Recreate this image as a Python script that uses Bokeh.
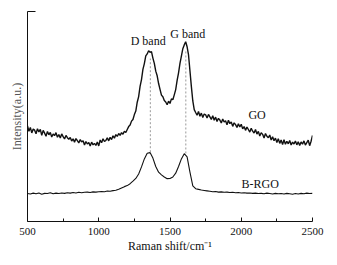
from bokeh.plotting import figure
from bokeh.models import Range1d, FixedTicker, ColumnDataSource
from bokeh.core.properties import value
from bokeh.embed import file_html
from bokeh.resources import INLINE

# Raman shift grid (cm^-1)
go_x = list(range(500, 2501, 10))
go_y = [
    45.5, 43.0, 44.8, 42.2, 44.0, 43.5, 41.8, 44.2, 42.6, 43.9,
    41.0, 43.4, 42.1, 40.6, 42.9, 41.3, 42.4, 40.2, 41.7, 40.9,
    42.3, 40.1, 41.4, 39.8, 41.7, 40.4, 39.3, 41.0, 39.9, 39.2,
    40.0, 38.3, 39.4, 37.8, 39.5, 38.5, 37.4, 39.0, 37.9, 38.5,
    36.4, 38.1, 36.9, 37.6, 35.9, 37.8, 36.5, 37.2, 36.2, 37.9,
    36.0, 38.8, 37.5, 39.4, 38.1, 38.6, 39.9, 38.4, 40.1, 39.0,
    40.8, 39.7, 41.4, 40.5, 41.9, 41.0, 42.3, 41.6, 43.0, 42.4,
    43.8, 45.2, 45.9, 47.8, 48.6, 50.9, 52.6, 56.8, 59.5, 64.3,
    67.6, 72.4, 75.2, 78.9, 79.8, 81.3, 80.6, 80.9, 77.8, 75.3,
    71.6, 69.4, 65.7, 62.9, 60.2, 59.4, 57.6, 56.9, 55.6, 57.3,
    56.2, 58.4, 58.0, 60.3, 62.8, 67.2, 70.8, 75.3, 78.7, 82.3,
    84.1, 85.6, 83.2, 79.3, 71.8, 64.2, 57.4, 53.3, 51.9, 50.6,
    52.4, 50.1, 51.6, 49.5, 51.2, 50.8, 49.3, 51.0, 49.8, 48.6,
    50.4, 48.2, 49.7, 47.6, 49.1, 48.3, 46.9, 48.8, 47.4, 48.0,
    46.0, 48.2, 46.6, 47.4, 45.3, 47.0, 46.1, 44.8, 46.5, 45.0,
    46.3, 44.1, 45.2, 43.4, 45.0, 43.8, 42.6, 44.4, 43.0, 42.1,
    43.8, 41.6, 42.9, 40.7, 42.3, 41.5, 39.8, 41.9, 40.6, 39.9,
    41.2, 38.8, 40.3, 38.5, 39.7, 37.6, 39.4, 37.2, 38.8, 36.6,
    38.9, 36.8, 38.2, 37.0, 38.6, 36.4, 37.8, 36.9, 38.3, 36.5,
    38.0, 36.2, 37.9, 36.8, 38.4, 36.4, 37.6, 38.7, 36.1, 38.2,
    41.0,
]

brgo_x = list(range(500, 2501, 20))
brgo_y = [
    13.3, 13.1, 13.5, 13.2, 13.6, 13.0, 13.4, 13.3, 13.7, 13.2,
    13.5, 13.3, 13.6, 13.4, 13.7, 13.5, 13.8, 13.6, 13.9, 13.7,
    13.9, 14.0, 13.8, 14.1, 14.0, 14.2, 14.3, 14.2, 14.5, 14.4,
    14.7, 14.9, 15.4, 16.0, 16.6, 17.1, 18.0, 19.2, 20.5, 22.6,
    26.0, 29.8, 32.5, 32.8, 30.2, 26.2, 23.5, 22.2, 21.2, 20.4,
    20.5, 21.2, 23.0, 26.2, 29.8, 32.3, 30.8, 23.5, 17.0, 15.6,
    15.3, 15.0, 14.8, 14.6, 14.4, 14.2, 14.3, 14.0, 14.1, 13.9,
    14.0, 13.8, 13.9, 13.7, 13.8, 13.6, 13.7, 13.5, 13.6, 13.4,
    13.5, 13.3, 13.4, 13.2, 13.5, 13.3, 13.1, 13.4, 13.2, 13.3,
    13.1, 13.4, 13.2, 13.0, 13.3, 13.1, 13.4, 13.2, 13.5, 13.3,
    13.4,
]

# band positions and dashed guide extents
band_x = [1362, 1611]
band_low = [33.0, 32.4]
band_high = [77.6, 81.4]

label_text = ["D band", "G band", "GO", "B-RGO"]
label_x = [1347, 1625, 2111, 2133]
label_y = [86.0, 89.5, 50.5, 18.0]

x_ticks = [500, 1000, 1500, 2000, 2500]
x_minor = [750, 1250, 1750, 2250]

FONT = "Liberation Serif"

p = figure(width=329, height=257, output_backend="svg", toolbar_location=None,
           x_range=Range1d(500, 2500), y_range=Range1d(0, 100),
           min_border_left=27, min_border_right=17, min_border_top=11,
           min_border_bottom=36)
p.outline_line_color = None
p.background_fill_color = "white"
p.border_fill_color = "white"
p.xgrid.visible = False
p.ygrid.visible = False

p.line(go_x, go_y, line_color="#111111", line_width=1.4)
p.line(brgo_x, brgo_y, line_color="#111111", line_width=1.1)

p.segment(x0=band_x, y0=band_low, x1=band_x, y1=band_high,
          line_color="#999999", line_width=1, line_dash="2 2")

src = ColumnDataSource(dict(x=label_x, y=label_y, t=label_text))
p.text(x="x", y="y", text="t", source=src, text_font=value(FONT),
       text_font_size="12px", text_align="center", text_baseline="middle",
       text_color="#111111")

xa = p.xaxis[0]
xa.ticker = FixedTicker(ticks=x_ticks, minor_ticks=x_minor)
xa.major_tick_in = 4
xa.major_tick_out = 0
xa.minor_tick_in = 3
xa.minor_tick_out = 0
xa.axis_line_color = "#111111"
xa.major_tick_line_color = "#111111"
xa.minor_tick_line_color = "#111111"
xa.major_label_text_font = FONT
xa.major_label_text_font_size = "11px"
xa.major_label_text_color = "#111111"
xa.major_label_standoff = 6
xa.axis_label = "Raman shift/cm\u207b\u00b9"
xa.axis_label_text_font = FONT
xa.axis_label_text_font_size = "12px"
xa.axis_label_text_font_style = "normal"
xa.axis_label_text_color = "#111111"
xa.axis_label_standoff = 1

ya = p.yaxis[0]
ya.ticker = FixedTicker(ticks=[100], minor_ticks=[])
ya.major_tick_in = 8
ya.major_tick_out = 0
ya.minor_tick_line_color = None
ya.axis_line_color = "#111111"
ya.major_tick_line_color = "#111111"
ya.major_label_overrides = {100: ""}
ya.major_label_standoff = 0
ya.axis_label = "Intensity(a.u.)"
ya.axis_label_text_font = FONT
ya.axis_label_text_font_size = "12px"
ya.axis_label_text_font_style = "normal"
ya.axis_label_text_color = "#555555"
ya.axis_label_standoff = 4

open("out.html", "w").write(file_html(p, INLINE))
